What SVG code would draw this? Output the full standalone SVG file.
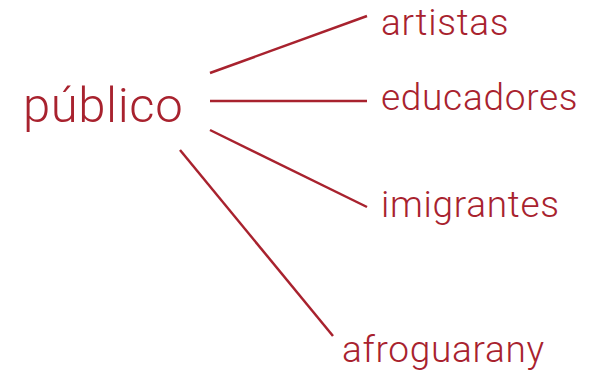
<svg xmlns="http://www.w3.org/2000/svg" width="592" height="372" viewBox="0 0 592 372">
<style>
text{font-family:Roboto,"Liberation Sans",sans-serif;font-weight:300;fill:#a8222e}
.lbl{font-size:37px;letter-spacing:0.7px}
.edge{stroke:#a8222e;stroke-width:2.5;fill:none}
</style>
<rect width="592" height="372" fill="#fff"/>
<g id="connectors">
<line class="edge" x1="210" y1="73" x2="367" y2="16"/>
<line class="edge" x1="210" y1="101" x2="367" y2="101"/>
<line class="edge" x1="210" y1="130" x2="367" y2="207"/>
<line class="edge" x1="180" y1="150" x2="333" y2="336"/>
</g>
<g id="publico"><text x="23" y="122" style="font-size:49px;letter-spacing:0.6px">público</text></g>
<g id="artistas"><text class="lbl" x="381" y="35">artistas</text></g>
<g id="educadores"><text class="lbl" x="381" y="110">educadores</text></g>
<g id="imigrantes"><text class="lbl" x="381" y="217">imigrantes</text></g>
<g id="afroguarany"><text class="lbl" x="342" y="362">afroguarany</text></g>
</svg>
